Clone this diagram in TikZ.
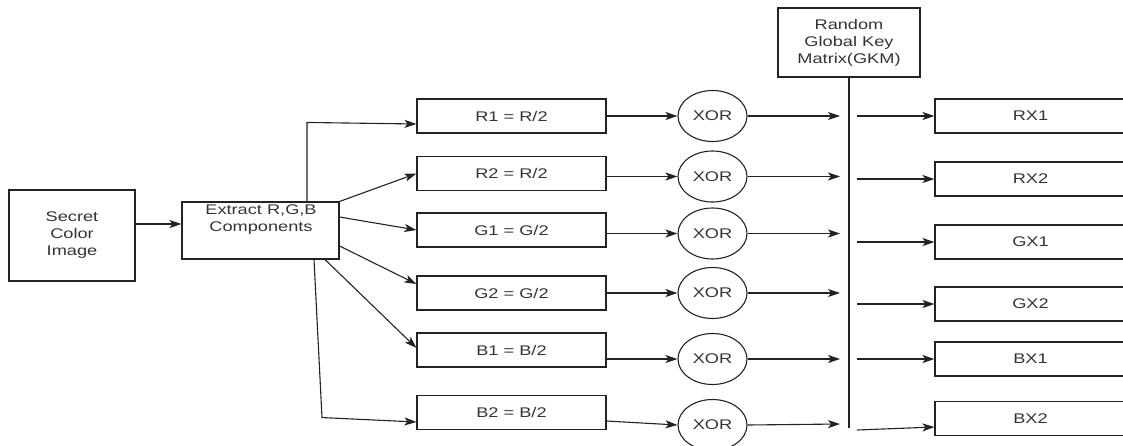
\documentclass[tikz,border=0pt]{standalone}
\usepackage{fontspec}
\setmainfont{Liberation Sans}[FakeStretch=1.3]
\usetikzlibrary{arrows.meta,shapes.geometric,calc}
\definecolor{ink}{HTML}{222222}
\definecolor{txt}{HTML}{333333}
\begin{document}
\begin{tikzpicture}[x=1pt,y=-1pt,
  every node/.style={font=\fontsize{14}{17}\selectfont,text=txt},
  box/.style={draw=ink,line width=1.1pt,rectangle,inner sep=0pt},
  half/.style={box,minimum width=189pt,minimum height=34pt},
  outbox/.style={box,minimum width=191pt,minimum height=34pt},
  xorgate/.style={draw=ink,line width=1.1pt,ellipse,inner sep=0pt,minimum width=69pt,minimum height=51pt},
  arr/.style={draw=ink,line width=1.1pt,-{Stealth[length=12pt,width=8pt,inset=3pt]}},
  wire/.style={draw=ink,line width=1.1pt}]
\useasboundingbox (0,0) rectangle (1123,445);
\clip (0,0) rectangle (1123,445);

% source image and channel extraction
\node[box,minimum width=126pt,minimum height=91pt,align=center] (sci) at (72,235.5) {Secret\\Color\\Image};
\node[box,minimum width=157pt,minimum height=57pt] (ext) at (260.5,230.5) {};
\node[anchor=north,align=center,inner sep=0pt] (extlbl) at (261,205) {Extract R,G,B\\Components};

% halved channels
\node[half] (r1) at (511.5,116) {R1 = R/2};
\node[half] (r2) at (511.5,173.5) {R2 = R/2};
\node[half] (g1) at (511.5,230) {G1 = G/2};
\node[half] (g2) at (511.5,293) {G2 = G/2};
\node[half] (b1) at (511.5,350) {B1 = B/2};
\node[half] (b2) at (511.5,412.5) {B2 = B/2};

% XOR gates
\node[xorgate] (x1) at (712.5,116) {XOR};
\node[xorgate] (x2) at (712.5,176.5) {XOR};
\node[xorgate] (x3) at (712.5,233.5) {XOR};
\node[xorgate] (x4) at (712.5,293) {XOR};
\node[xorgate] (x5) at (712.5,359) {XOR};
\node[xorgate] (x6) at (712.5,425) {XOR};

% key matrix and its bus line
\node[box,minimum width=142pt,minimum height=69pt,align=center] (gkm) at (849,42.5) {Random\\Global Key\\Matrix(GKM)};
\coordinate (kb) at (849,428);
\draw[wire] (gkm.south) -- (kb);

% encrypted outputs
\node[outbox] (rx1) at (1030.5,116) {RX1};
\node[outbox] (rx2) at (1030.5,179) {RX2};
\node[outbox] (gx1) at (1030.5,242) {GX1};
\node[outbox] (gx2) at (1030.5,304) {GX2};
\node[outbox] (bx1) at (1030.5,359) {BX1};
\node[outbox] (bx2) at (1030.5,418.5) {BX2};

% image to extractor
\draw[arr] (sci.east |- 0,224) -- (ext.west |- 0,224);

% extractor fan-out
\draw[arr] ([xshift=46.5pt]ext.north) -- ++(0,-79) -- ([yshift=-8pt]r1.west);
\draw[arr] (ext.north east) -- (r2.west);
\draw[arr] ([yshift=13.5pt]ext.east) -- (g1.west);
\draw[arr] ([yshift=-15.5pt]ext.east) -- ([yshift=9pt]g2.west);
\draw[arr] ([xshift=64.5pt]ext.south) -- ([yshift=2pt]b1.west);
\draw[arr] ([xshift=53.5pt]ext.south) -- ++(8,158) -- ([yshift=-9.5pt]b2.west);

% halves into XOR gates
\draw[arr] (r1.east) -- (x1.west);
\draw[arr] (r2.east |- x2) -- (x2.west);
\draw[arr] (g1.east |- x3) -- (x3.west);
\draw[arr] (g2.east |- x4) -- (x4.west);
\draw[arr] (b1.east |- x5) -- (x5.west);
\draw[arr] ([yshift=-8.5pt]b2.east) -- (x6.west);

% XOR gates to key bus
\foreach \g in {x1,x2,x3,x4,x5} {
  \draw[arr] (\g.east) -- ($(\g -| kb)+(-9,0)$);
}
\draw[arr] (x6.east) -- ($(x6 -| kb)+(-9,-1)$);

% key bus to outputs
\foreach \o in {rx1,rx2,gx1,gx2,bx1} {
  \draw[arr] ($(\o.west -| kb)+(8,0)$) -- (\o.west);
}
\draw[arr] ($(bx2.west -| kb)+(8,11.5)$) -- ([yshift=-8.5pt]bx2.west);
\end{tikzpicture}
\end{document}
